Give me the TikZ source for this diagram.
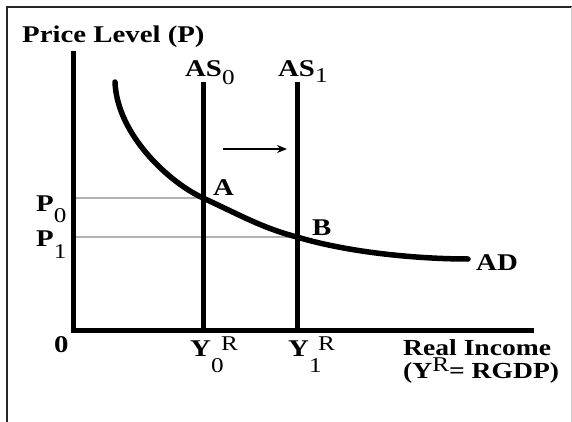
\documentclass[tikz,border=0pt]{standalone}
\usepackage{fontspec}
\setmainfont[FakeStretch=1.2]{Liberation Serif}
\usetikzlibrary{arrows.meta}
\newcommand{\dgsub}[2]{\raisebox{-#1pt}{\fontsize{21}{21}\selectfont\mdseries #2}}
\newcommand{\dgsup}[2]{\raisebox{#1pt}{\fontsize{21}{21}\selectfont\mdseries #2}}
\tikzset{
  lbl/.style={inner sep=0pt, anchor=base west, font=\fontsize{24}{24}\selectfont\bfseries},
  axisline/.style={line width=5pt, line join=miter},
  asline/.style={line width=5pt},
  adcurve/.style={line width=5.5pt, line cap=round},
  guide/.style={line width=1.5pt, draw=black!30},
  framel/.style={line width=2pt, draw=black!85},
  shiftarrow/.style={line width=1.6pt, -{Stealth[length=10pt,width=8pt]}}
}
\begin{document}
\begin{tikzpicture}[x=1pt,y=-1pt]
\useasboundingbox (0,0) rectangle (572,422);
% frame
\draw[framel] (7,422) -- (7,7) -- (572,7);
\draw[line width=1pt, draw=black!20] (571,7) -- (571,422);
% coordinates
\coordinate (O) at (73,330);
\coordinate (ytop) at (73,51);
\coordinate (xend) at (534,330);
\coordinate (as0t) at (203,82);
\coordinate (as0b) at (203,330);
\coordinate (as1t) at (297,82);
\coordinate (as1b) at (297,330);
\coordinate (adS) at (115,82);
\coordinate (ptA) at (203,198);
\coordinate (ptB) at (297,237);
\coordinate (adE) at (468,259);
\coordinate (p0) at (73,198);
\coordinate (p1) at (73,237);
\coordinate (arS) at (223,149);
\coordinate (arE) at (287,149);
% guides
\draw[guide] (p0) -- (ptA);
\draw[guide] (p1) -- (ptB);
% axes
\draw[axisline] (ytop) -- (O) -- (xend);
% AS lines
\draw[asline] (as0t) -- (as0b);
\draw[asline] (as1t) -- (as1b);
% AD curve
\draw[adcurve] (adS) .. controls (117,135) and (170,183) .. (ptA)
  .. controls (238,214) and (262,228) .. (ptB)
  .. controls (350,253) and (420,259) .. (adE);
% shift arrow
\draw[shiftarrow] (arS) -- (arE);
% labels
\node[lbl] (ylab) at (22,43) {Price Level (P)};
\node[lbl] (as0lab) at (185,77) {AS\dgsub{8}{0}};
\node[lbl] (as1lab) at (278,77) {AS\dgsub{6}{1}};
\node[lbl] (p0lab) at (36,211) {P\dgsub{11}{0}};
\node[lbl] (p1lab) at (36,246) {P\dgsub{12}{1}};
\node[lbl] (Alab) at (213,195) {A};
\node[lbl] (Blab) at (312,235) {B};
\node[lbl] (ADlab) at (476,270) {AD};
\node[lbl] (olab) at (54,352) {0};
\node[lbl] (y0lab) at (190,356) {Y\rlap{\dgsub{16}{0}}\hspace{10pt}\dgsup{6}{R}};
\node[lbl] (y1lab) at (288,356) {Y\rlap{\dgsub{16}{1}}\hspace{9pt}\dgsup{6}{R}};
\node[lbl, align=left, font=\fontsize{23}{23}\selectfont\bfseries] (xlab) at (403,378) {Real Income\\(Y\dgsup{7}{R}= RGDP)};
\end{tikzpicture}
\end{document}
